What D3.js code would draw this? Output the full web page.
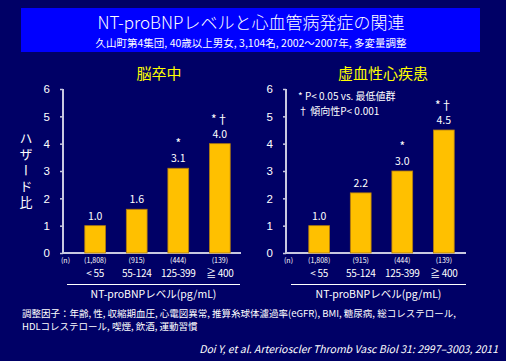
<!doctype html>
<html lang="ja">
<head>
<meta charset="utf-8">
<title>NT-proBNP</title>
<script src="https://cdn.jsdelivr.net/npm/d3@7"></script>
<style>
	body { margin: 0; background: #000066; }
	svg { display: block; font-family: "Noto Sans CJK JP", "Noto Sans", sans-serif; }
</style>
</head>
<body>
<div id="svg"></div>
<script>
	var categories = ["< 55", "55-124", "125-399", "≧ 400"];
	var nCounts = ["(1,808)", "(915)", "(444)", "(139)"];
	var strokeValues = [1.0, 1.6, 3.1, 4.0];
	var chdValues = [1.0, 2.2, 3.0, 4.5];
	var sigMarks = ["", "", "*", "*†"];
	var yTicks = [0, 1, 2, 3, 4, 5, 6];

	var widthSvg = 506, heightSvg = 361;
	var svg = d3.select("#svg").append("svg").attr("width", widthSvg).attr("height", heightSvg);

	svg.append("rect").attr("width", widthSvg).attr("height", heightSvg).attr("fill", "#000066");

	// title box
	svg.append("rect").attr("x", 21).attr("y", 8).attr("width", 459).attr("height", 44).attr("fill", "#0000ff");
	svg.append("text").attr("x", 251).attr("y", 29).attr("text-anchor", "middle")
		.attr("fill", "#fff").attr("font-size", 17).attr("font-weight", 300).text("NT-proBNPレベルと心血管病発症の関連");
	svg.append("text").attr("x", 251).attr("y", 47).attr("text-anchor", "middle")
		.attr("fill", "#fff").attr("font-size", 10.5)
		.text("久山町第4集団, 40歳以上男女, 3,104名, 2002～2007年, 多変量調整");

	var yScale = d3.scaleLinear().domain([0, 6]).range([253, 89]);

	function drawPanel(title, values, axisX, bandStart, axisEnd, lineStart, lineEnd) {
		var xScale = d3.scaleBand().domain(categories).range([bandStart, bandStart + 187]).padding(0.5);
		var g = svg.append("g");

		g.append("text").attr("x", xScale("55-124") + xScale.bandwidth() + 12).attr("y", 79)
			.attr("text-anchor", "middle").attr("fill", "#ffff00").attr("font-size", 15).text(title);

		var ax = g.append("g").attr("transform", "translate(" + axisX + ",0)")
			.call(d3.axisLeft(yScale).tickValues(yTicks).tickSize(3).tickPadding(10).tickFormat(d3.format("d")));
		ax.select(".domain").remove();
		ax.selectAll(".tick line").attr("stroke", "#c8c8e0").attr("stroke-width", 1.5);
		ax.selectAll(".tick text").attr("fill", "#fff").attr("font-size", 11.5);
		g.append("line").attr("x1", axisX).attr("x2", axisX).attr("y1", yScale(6)).attr("y2", yScale(0))
			.attr("stroke", "#c8c8e0").attr("stroke-width", 2);
		g.append("line").attr("x1", axisX).attr("x2", axisEnd).attr("y1", yScale(0)).attr("y2", yScale(0))
			.attr("stroke", "#c8c8e0").attr("stroke-width", 2);

		g.selectAll(".bar").data(values).enter().append("rect")
			.attr("x", function(d, i) { return xScale(categories[i]); })
			.attr("y", function(d) { return yScale(d); })
			.attr("width", xScale.bandwidth())
			.attr("height", function(d) { return yScale(0) - yScale(d); })
			.attr("fill", "#ffc000").attr("stroke", "#b07a10").attr("stroke-width", 0.8);

		g.selectAll(".val").data(values).enter().append("text")
			.attr("x", function(d, i) { return xScale(categories[i]) + xScale.bandwidth() / 2; })
			.attr("y", function(d) { return yScale(d) - 6; })
			.attr("text-anchor", "middle").attr("fill", "#fff").attr("font-size", 10.5)
			.text(function(d) { return d.toFixed(1); });

		g.selectAll(".sig").data(values).enter().append("text")
			.attr("x", function(d, i) { return xScale(categories[i]) + xScale.bandwidth() / 2; })
			.attr("y", function(d) { return yScale(d) - 20; })
			.attr("text-anchor", "middle").attr("fill", "#fff").attr("font-size", 12)
			.text(function(d, i) { return sigMarks[i]; });

		g.append("text").attr("x", axisX - 2).attr("y", 263).attr("fill", "#fff").attr("font-size", 7).text("(n)");
		g.selectAll(".n").data(nCounts).enter().append("text")
			.attr("x", function(d, i) { return xScale(categories[i]) + xScale.bandwidth() / 2; })
			.attr("y", 263).attr("text-anchor", "middle").attr("fill", "#fff").attr("font-size", 7)
			.text(function(d) { return d; });
		g.selectAll(".cat").data(categories).enter().append("text")
			.attr("x", function(d) { return xScale(d) + xScale.bandwidth() / 2; })
			.attr("y", 277).attr("text-anchor", "middle").attr("fill", "#fff").attr("font-size", 10)
			.attr("letter-spacing", -0.3)
			.text(function(d) { return d; });

		g.append("line").attr("x1", lineStart).attr("x2", lineEnd).attr("y1", 284.5).attr("y2", 284.5)
			.attr("stroke", "#fff").attr("stroke-width", 1);
		g.append("text").attr("x", (lineStart + lineEnd) / 2).attr("y", 298).attr("text-anchor", "middle")
			.attr("fill", "#fff").attr("font-size", 10.5).text("NT-proBNPレベル(pg/mL)");
		return g;
	}

	drawPanel("脳卒中", strokeValues, 63, 64, 241, 67, 240);
	var right = drawPanel("虚血性心疾患", chdValues, 286, 288, 466, 291, 466);

	right.append("text").attr("x", 298).attr("y", 100).attr("fill", "#fff").attr("font-size", 10).text("* P< 0.05 vs. 最低値群");
	right.append("text").attr("x", 298).attr("y", 115).attr("fill", "#fff").attr("font-size", 10).text("† 傾向性P< 0.001");

	// y axis title, vertical
	svg.append("text").attr("x", 26).attr("y", 132).attr("fill", "#fff").attr("font-size", 13)
		.attr("writing-mode", "vertical-rl").attr("letter-spacing", 3).text("ハザード比");

	svg.append("text").attr("x", 22).attr("y", 317).attr("fill", "#fff").attr("font-size", 9.5)
		.text("調整因子：年齢, 性, 収縮期血圧, 心電図異常, 推算糸球体濾過率(eGFR), BMI, 糖尿病, 総コレステロール,");
	svg.append("text").attr("x", 22).attr("y", 330).attr("fill", "#fff").attr("font-size", 9.5)
		.text("HDLコレステロール, 喫煙, 飲酒, 運動習慣");
	svg.append("text").attr("x", 498).attr("y", 353).attr("text-anchor", "end").attr("fill", "#fff")
		.attr("font-size", 10.5).attr("font-style", "italic")
		.text("Doi Y, et al. Arterioscler Thromb Vasc Biol 31: 2997–3003, 2011");
</script>
</body>
</html>
